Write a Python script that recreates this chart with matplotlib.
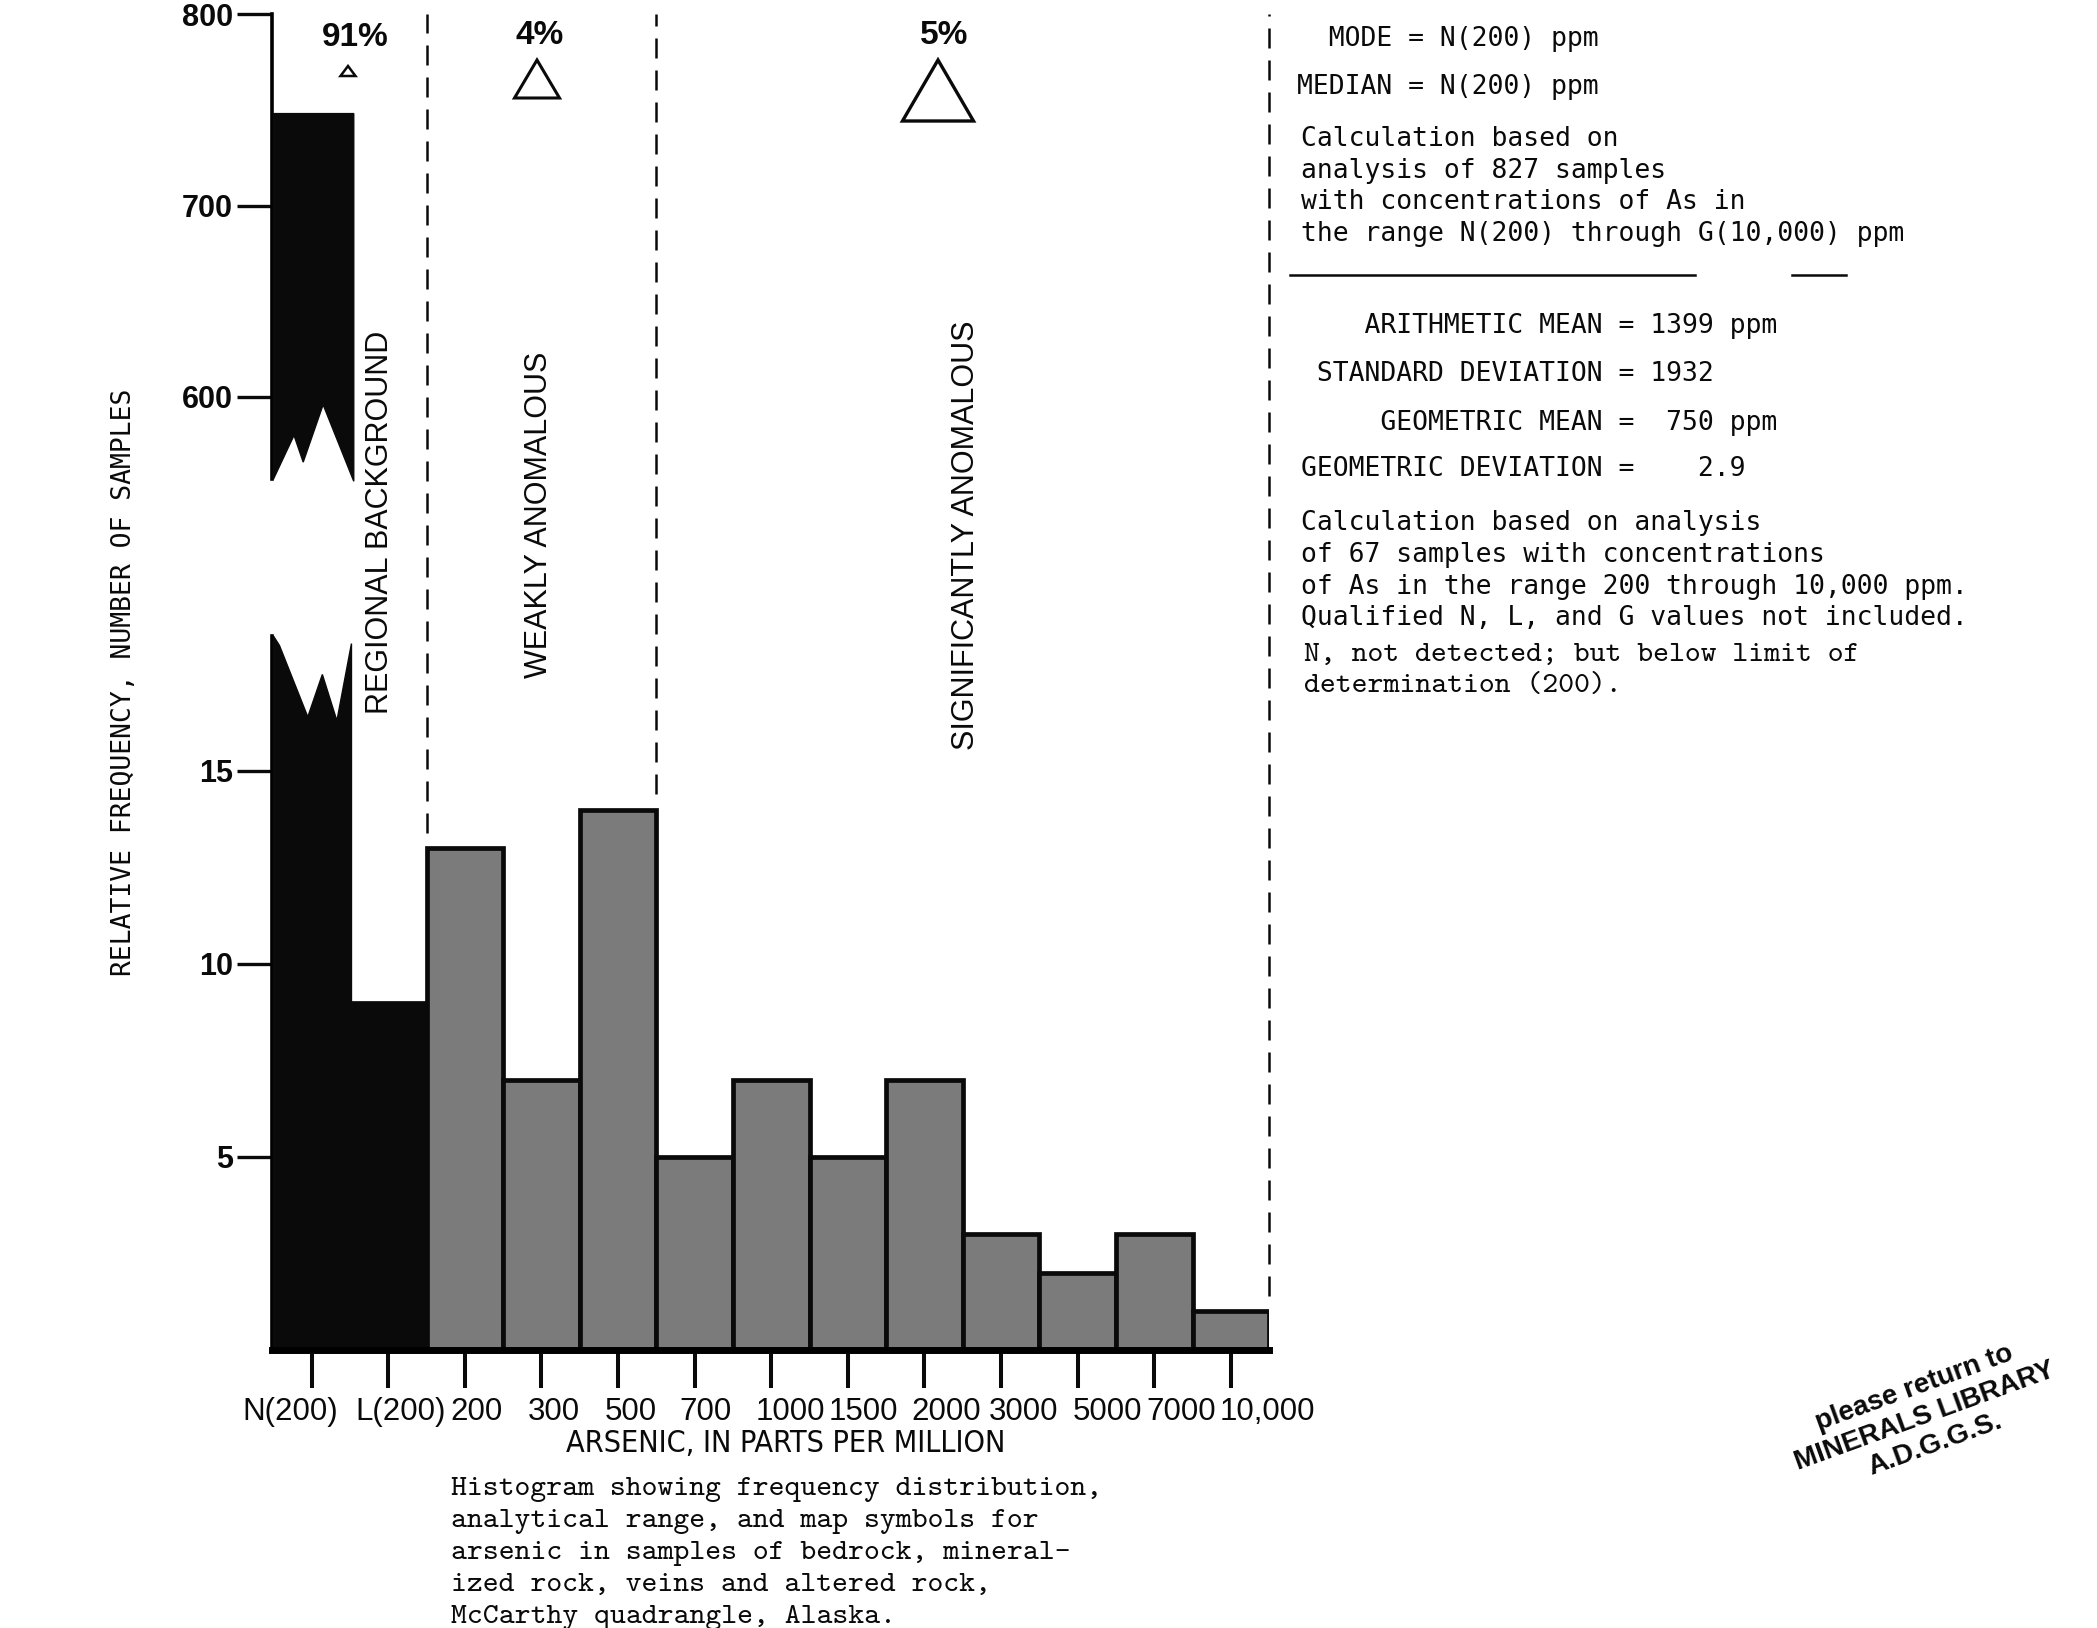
import matplotlib
matplotlib.use('Agg')  # backend sin pantalla
import matplotlib.pyplot as plt
from matplotlib import font_manager
from matplotlib.patches import Polygon
from matplotlib.lines import Line2D
from matplotlib.transforms import ScaledTranslation

ANCHO, ALTO, DPI = 2097, 1628, 100

# Datos del histograma (arsénico, ppm)
categorias = ['N(200)', 'L(200)', '200', '300', '500', '700', '1000', '1500',
              '2000', '3000', '5000', '7000', '10,000']
frecuencias = [748, 9, 13, 7, 14, 5, 7, 5, 7, 3, 2, 3, 1]
ticks_inf = [5, 10, 15]
ticks_sup = [600, 700, 800]
limites_zona = [1.5, 4.5, 12.5]
porcentajes = ['91%', '4%', '5%']
zonas = ['REGIONAL BACKGROUND', 'WEAKLY ANOMALOUS', 'SIGNIFICANTLY ANOMALOUS']

COLOR_NEGRO = '#0a0a0a'
COLOR_GRIS = '#7b7b7b'

# fuente angosta si existe alguna instalada
fuentes = font_manager.fontManager.ttflist
if any(f.name == 'Liberation Sans Narrow' for f in fuentes):
    ANGOSTA = dict(fontfamily='Liberation Sans Narrow')
    TAM_ANGOSTA = 1.1
elif any(f.name == 'DejaVu Sans' and f.stretch == 'condensed' for f in fuentes):
    ANGOSTA = dict(fontfamily='DejaVu Sans', fontstretch='condensed')
    TAM_ANGOSTA = 0.95
else:
    ANGOSTA = dict(fontfamily='Liberation Sans')
    TAM_ANGOSTA = 0.8
SANS = 'Liberation Sans'
MONO = 'DejaVu Sans Mono'
MAQUINA = ['cmtt10', 'DejaVu Sans Mono']


def fx(x):
    return x / ANCHO


def fy(y):
    return 1 - y / ALTO


fig = plt.figure(figsize=(ANCHO / DPI, ALTO / DPI), dpi=DPI)
fig.patch.set_facecolor('white')

# eje cortado: parte inferior (0-18.6) y superior (553-801)
izq, der = 271.8, 1269.1
ax = fig.add_axes([fx(izq), fy(1350), fx(der - izq), (1350 - 632) / ALTO])
ax_sup = fig.add_axes([fx(izq), fy(487), fx(der - izq), (487 - 12.1) / ALTO])
for a in (ax, ax_sup):
    a.patch.set_visible(False)
    a.set_xlim(-0.52, 12.5)
    a.spines['top'].set_visible(False)
    a.spines['right'].set_visible(False)
    a.spines['left'].set_linewidth(2.6)
    a.tick_params(axis='y', direction='out', length=25, width=2.4, pad=3,
                  labelsize=22, colors=COLOR_NEGRO)

ax.set_ylim(0, 18.6)
ax_sup.set_ylim(553, 801)
ax.spines['left'].set_bounds(0, 18.5)
ax_sup.spines['left'].set_bounds(557, 800)
ax_sup.spines['bottom'].set_visible(False)
ax_sup.set_xticks([])

ax.set_yticks(ticks_inf, [str(v) for v in ticks_inf], fontfamily=SANS, fontweight='bold')
ax_sup.set_yticks(ticks_sup, [str(v) for v in ticks_sup], fontfamily=SANS, fontweight='bold')

# barras (la primera va partida en dos)
x = list(range(len(categorias)))
colores = [COLOR_NEGRO if i < 2 else COLOR_GRIS for i in x]
ax.bar(x[1:], frecuencias[1:], width=1.0, color=colores[1:],
       edgecolor=COLOR_NEGRO, linewidth=3.4, zorder=3)

corte_inf = [(-0.5, 18.5), (-0.42, 18.25), (-0.05, 16.4), (0.14, 17.5),
             (0.33, 16.3), (0.52, 18.3)]
corte_sup = [(0.55, 556), (0.15, 596), (-0.11, 566), (-0.23, 580), (-0.5, 557)]
ax.add_patch(Polygon([(-0.5, 0)] + corte_inf + [(0.52, 0)], closed=True,
                     facecolor=COLOR_NEGRO, edgecolor=COLOR_NEGRO, lw=1, zorder=3))
ax_sup.add_patch(Polygon([(-0.5, frecuencias[0]), (0.55, frecuencias[0])] + corte_sup,
                         closed=True, facecolor=COLOR_NEGRO, edgecolor=COLOR_NEGRO,
                         lw=1, zorder=3))

ax.spines['bottom'].set_linewidth(5)
ax.spines['bottom'].set_zorder(4)
ax.set_xticks(x, categorias)
ax.tick_params(axis='x', direction='out', length=27, width=2.9, pad=7,
               labelsize=22.5, colors=COLOR_NEGRO)
# las etiquetas del original están algo corridas respecto a las marcas
corrimiento_px = [-21, 12, 12, 12, 13, 11, 19, 16, 22, 23, 30, 27, 37]
for etiqueta, dx in zip(ax.get_xticklabels(), corrimiento_px):
    etiqueta.set_fontfamily(SANS)
    etiqueta.set_transform(etiqueta.get_transform() +
                           ScaledTranslation(dx / DPI, 0, fig.dpi_scale_trans))

# líneas de trazos que separan las zonas
y_tope = ax.transData.inverted().transform(fig.transFigure.transform((0, fy(14))))[1]
for b in limites_zona:
    vecinos = [frecuencias[int(b - 0.5)]]
    if int(b + 0.5) < len(frecuencias):
        vecinos.append(frecuencias[int(b + 0.5)])
    ax.vlines(b, max(vecinos) + 0.4, y_tope, colors=COLOR_NEGRO, lw=1.8,
              linestyles=(0, (8, 4.8)), clip_on=False, zorder=2)

# porcentajes y triángulos (símbolos de mapa)
pos_pct = [(355, 37), (540, 35), (944, 35)]
triangulos = [(348, 66, 76, 15, 1.8), (537, 60, 98, 45, 2.2), (938, 60, 121, 71, 2.4)]
for texto, (px, py) in zip(porcentajes, pos_pct):
    fig.text(fx(px), fy(py), texto, ha='center', va='center', fontsize=24,
             fontweight='bold', fontfamily=SANS, color=COLOR_NEGRO)
for cx, y0, y1, w, lw in triangulos:
    fig.add_artist(Polygon([(fx(cx), fy(y0)), (fx(cx - w / 2), fy(y1)),
                            (fx(cx + w / 2), fy(y1))], closed=True, fill=False,
                           edgecolor=COLOR_NEGRO, lw=lw, transform=fig.transFigure))

pos_zonas = [(380, 522), (539, 515), (966, 535)]
for texto, (px, py) in zip(zonas, pos_zonas):
    fig.text(fx(px), fy(py), texto, rotation=90, ha='center', va='center',
             fontsize=22, fontfamily=SANS, color=COLOR_NEGRO)

# títulos de ejes y leyenda
fig.text(fx(124), fy(682), 'RELATIVE FREQUENCY, NUMBER OF SAMPLES', rotation=90,
         ha='center', va='center', fontsize=19, fontfamily=MONO, color=COLOR_NEGRO)
fig.text(fx(786), fy(1444), 'ARSENIC, IN PARTS PER MILLION', ha='center', va='center',
         fontsize=23 * TAM_ANGOSTA, color=COLOR_NEGRO, **ANGOSTA)

leyenda = ['Histogram showing frequency distribution,',
           'analytical range, and map symbols for',
           'arsenic in samples of bedrock, mineral-',
           'ized rock, veins and altered rock,',
           'McCarthy quadrangle, Alaska.']
for i, linea in enumerate(leyenda):
    fig.text(fx(451), fy(1489 + 32.1 * i), linea, ha='left', va='center',
             fontsize=21.8, fontfamily=MAQUINA, color=COLOR_NEGRO)

# bloque de estadísticas a la derecha
bloque = [
    (1297, 39, '  MODE = N(200) ppm'),
    (1297, 87, 'MEDIAN = N(200) ppm'),
    (1301, 139, 'Calculation based on'),
    (1301, 171, 'analysis of 827 samples'),
    (1301, 202, 'with concentrations of As in'),
    (1301, 234, 'the range N(200) through G(10,000) ppm'),
    (1301, 326, '    ARITHMETIC MEAN = 1399 ppm'),
    (1301, 374, ' STANDARD DEVIATION = 1932'),
    (1301, 423, '     GEOMETRIC MEAN =  750 ppm'),
    (1301, 469, 'GEOMETRIC DEVIATION =    2.9'),
    (1301, 523, 'Calculation based on analysis'),
    (1301, 555, 'of 67 samples with concentrations'),
    (1301, 587, 'of As in the range 200 through 10,000 ppm.'),
    (1301, 618, 'Qualified N, L, and G values not included.'),
]
for px, py, texto in bloque:
    fig.text(fx(px), fy(py), texto, ha='left', va='center', fontsize=19,
             fontfamily=MONO, color=COLOR_NEGRO)
nota = [(1304, 655, 'N, not detected; but below limit of'),
        (1304, 687, 'determination (200).')]
for px, py, texto in nota:
    fig.text(fx(px), fy(py), texto, ha='left', va='center', fontsize=21.8,
             fontfamily=MAQUINA, color=COLOR_NEGRO)

for x0, x1 in [(1290, 1695), (1792, 1846)]:
    fig.add_artist(Line2D([fx(x0), fx(x1)], [fy(275), fy(275)], lw=1.8,
                          color=COLOR_NEGRO, transform=fig.transFigure))

# sello
fig.text(fx(1925), fy(1416), 'please return to\nMINERALS LIBRARY\nA.D.G.G.S.',
         rotation=20, ha='center', va='center', multialignment='center',
         fontsize=20, fontweight='bold', fontfamily=SANS, linespacing=1.2,
         color=COLOR_NEGRO, rotation_mode='anchor')

fig.savefig('out.png', dpi=DPI, facecolor='white')
